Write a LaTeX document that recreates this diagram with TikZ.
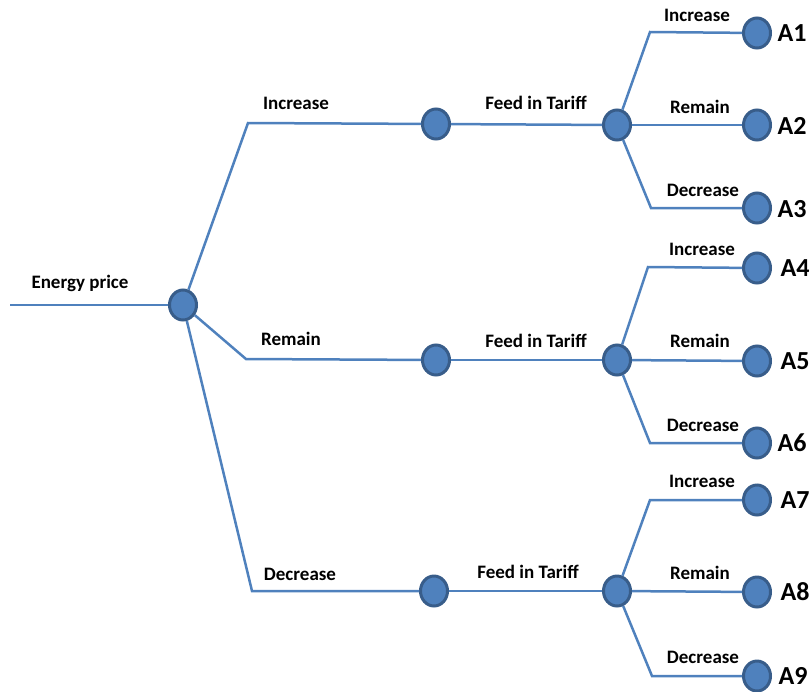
\documentclass[tikz,border=0pt]{standalone}
\usepackage{fontspec}
\setmainfont{Carlito}
\usetikzlibrary{shapes.geometric}
\definecolor{lineblue}{RGB}{79,129,189}
\definecolor{dotfill}{RGB}{79,129,189}
\definecolor{dotedge}{RGB}{56,93,138}
\begin{document}
\begin{tikzpicture}[x=1pt,y=-1pt,
  dot/.style={ellipse,draw=dotedge,fill=dotfill,line width=3pt,minimum width=27pt,minimum height=30pt,inner sep=0pt},
  conn/.style={draw=lineblue,line width=2.5pt},
  lbl/.style={font=\fontsize{19}{22}\selectfont\bfseries,text=black,inner sep=0pt},
  endlbl/.style={font=\fontsize{26}{30}\selectfont\bfseries,text=black,inner sep=0pt}]
\useasboundingbox (0,0) rectangle (811,691);
% root
\coordinate (start) at (10,305);
\node[dot] (root) at (183,305) {};
\node[lbl] at (80,283) {Energy price};
% first level
\coordinate (b1) at (248,123);
\coordinate (b2) at (246,359);
\coordinate (b3) at (252,591);
\node[dot] (m1) at (436,124) {};
\node[dot] (m2) at (436,360) {};
\node[dot] (m3) at (434,591) {};
\node[dot] (f1) at (617,125) {};
\node[dot] (f2) at (617,360) {};
\node[dot] (f3) at (617,591) {};
\node[lbl] at (296,103) {Increase};
\node[lbl] at (291,339) {Remain};
\node[lbl] at (300,574) {Decrease};
\node[lbl] at (536,103) {Feed in Tariff};
\node[lbl] at (536,341) {Feed in Tariff};
\node[lbl] at (528,572) {Feed in Tariff};
\draw[conn] (start) -- (root);
\draw[conn] (root) -- (b1) -- (m1);
\draw[conn] (root) -- (b2) -- (m2);
\draw[conn] (root) -- (b3) -- (m3);
\draw[conn] (m1) -- (f1);
\draw[conn] (m2) -- (f2);
\draw[conn] (m3) -- (f3);
% leaves group 1
\coordinate (u1) at (650,32);
\coordinate (d1) at (651,208);
\node[dot] (a1) at (757,33) {};
\node[dot] (a2) at (757,125) {};
\node[dot] (a3) at (757,208) {};
\draw[conn] (f1) -- (u1) -- (a1);
\draw[conn] (f1) -- (a2);
\draw[conn] (f1) -- (d1) -- (a3);
\node[lbl] at (697,15) {Increase};
\node[lbl] at (700,107) {Remain};
\node[lbl] at (703,190) {Decrease};
\node[endlbl] at (792,33) {A1};
\node[endlbl] at (792,126) {A2};
\node[endlbl] at (792,209) {A3};
% leaves group 2
\coordinate (u2) at (648,267);
\coordinate (d2) at (650,443);
\node[dot] (a4) at (757,268) {};
\node[dot] (a5) at (757,361) {};
\node[dot] (a6) at (757,443) {};
\draw[conn] (f2) -- (u2) -- (a4);
\draw[conn] (f2) -- (a5);
\draw[conn] (f2) -- (d2) -- (a6);
\node[lbl] at (702,249) {Increase};
\node[lbl] at (700,341) {Remain};
\node[lbl] at (703,425) {Decrease};
\node[endlbl] at (795,268) {A4};
\node[endlbl] at (795,361) {A5};
\node[endlbl] at (792,443) {A6};
% leaves group 3
\coordinate (u3) at (650,500);
\coordinate (d3) at (652,676);
\node[dot] (a7) at (757,500) {};
\node[dot] (a8) at (757,592) {};
\node[dot] (a9) at (757,676) {};
\draw[conn] (f3) -- (u3) -- (a7);
\draw[conn] (f3) -- (a8);
\draw[conn] (f3) -- (d3) -- (a9);
\node[lbl] at (702,481) {Increase};
\node[lbl] at (700,573) {Remain};
\node[lbl] at (703,657) {Decrease};
\node[endlbl] at (795,500) {A7};
\node[endlbl] at (795,592) {A8};
\node[endlbl] at (793,676) {A9};
\end{tikzpicture}
\end{document}
